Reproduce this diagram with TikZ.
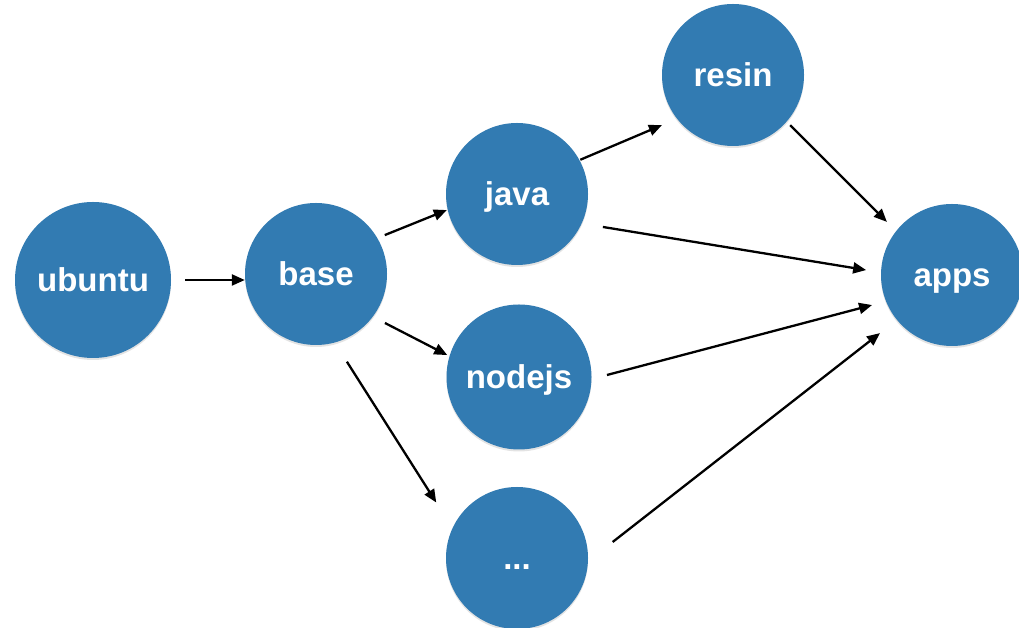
\documentclass[tikz,border=0pt]{standalone}
\usepackage{fontspec}
\setmainfont{Liberation Sans}
\usetikzlibrary{arrows.meta,calc,shadows}
\definecolor{nodeblue}{RGB}{50,123,178}
\begin{document}
\begin{tikzpicture}[x=1pt,y=1pt,
  bubble/.style={circle, fill=nodeblue, draw=none, minimum size=142pt, inner sep=0pt,
    text=white, font=\fontsize{33}{33}\selectfont\bfseries, text height=23.5pt, text depth=0pt,
    drop shadow={opacity=0.22, shadow xshift=0pt, shadow yshift=-2pt}},
  arr/.style={-{Triangle[length=13pt,width=11pt]}, line width=2.3pt, black}]
\useasboundingbox (0,0) rectangle (1019,628);
\fill[white] (0,0) rectangle (1019,628);
% nodes
\node[bubble, minimum size=156pt] (ubuntu) at (93,348) {ubuntu};
\node[bubble] (base)   at (316,354) {base};
\node[bubble] (java)   at (517,434) {java};
\node[bubble, minimum size=145pt] (nodejs) at (519,251) {nodejs};
\node[bubble] (dots)   at (517,70)  {...};
\node[bubble] (resin)  at (733,553) {resin};
\node[bubble] (apps)   at (952,353) {apps};
% connectors
\coordinate (s1) at ($(ubuntu)+(0:92)$);
\draw[arr] (s1) -- (s1 -| base.west);
\draw[arr] ($(base)+(29.5:79)$) -- ($(java)+(192.9:72)$);
\draw[arr] ($(base)+(-35.4:84.6)$) -- ($(nodejs)+(163:75)$);
\draw[arr] ($(base)+(-70.6:93)$) -- ($(dots)+(145.5:98)$);
\draw[arr] ($(java)+(28.4:72)$) -- ($(resin)+(215.2:87)$);
\draw[arr] ($(java)+(-21:92)$) -- ($(apps)+(176.7:86)$);
\draw[arr] ($(resin)+(-41.3:76)$) -- ($(apps)+(140.8:84)$);
\draw[arr] ($(nodejs)+(1.3:88)$) -- ($(apps)+(200.6:85.4)$);
\draw[arr] ($(dots)+(9.5:97)$) -- ($(apps)+(218.9:92.5)$);
\end{tikzpicture}
\end{document}
